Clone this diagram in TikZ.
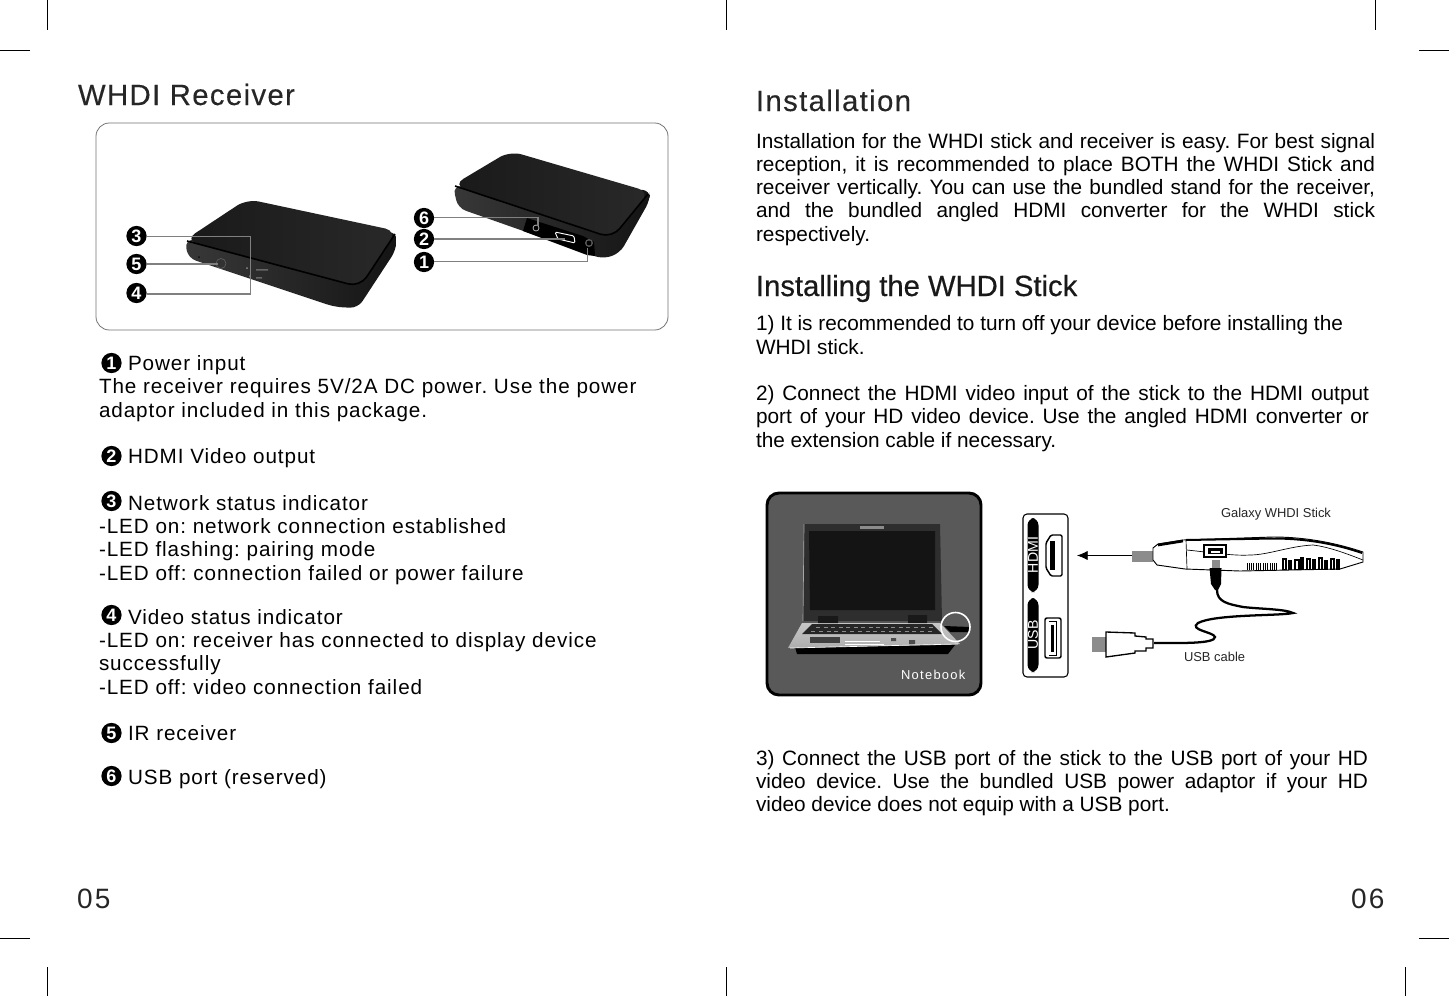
\documentclass[tikz,border=0pt]{standalone}
\usepackage{fontspec}
\usetikzlibrary{arrows.meta}
\setmainfont{Liberation Sans}
\newfontfamily\trackfont[LetterSpace=4.5]{Liberation Sans}
\newfontfamily\headfont[LetterSpace=4.6,FakeBold=0.25]{Liberation Sans}
\newfontfamily\instfont[FakeBold=0.5]{Liberation Sans}
\newfontfamily\pageFont[LetterSpace=8]{Liberation Sans}
\newfontfamily\noteFont[LetterSpace=10]{Liberation Sans}
\newcommand\Jl[2]{\makebox[#1pt][s]{#2}}
\frenchspacing
\tikzset{
 basetxt/.style={anchor=base west,inner sep=0pt,outer sep=0pt,text=black},
 rtext/.style={basetxt,font=\fontsize{15.6}{18}\selectfont},
 ltext/.style={basetxt,font=\fontsize{15.5}{18}\trackfont\selectfont},
 num/.style={circle,fill=black,inner sep=0pt,minimum size=15.2pt,text=white,font=\fontsize{13.5}{13.5}\bfseries\selectfont},
 lead/.style={draw=black!50,line width=0.85pt},
 crop/.style={draw=black,line width=0.7pt},
 h1/.style={basetxt,font=\fontsize{22}{24}\headfont\selectfont,text=black!85},
 captxt/.style={basetxt,font=\fontsize{9.7}{11}\selectfont,text=black!85},
 pagenum/.style={basetxt,font=\fontsize{21}{24}\pageFont\selectfont,text=black!85},
 pill/.style={fill=black,rounded corners=5.5pt},
 port/.style={draw=black,line width=1.1pt,fill=white},
 porttxt/.style={rotate=90,text=white,inner sep=0pt,font=\fontsize{10.6}{12}\selectfont}
}
\begin{document}
\begin{tikzpicture}[x=0.75pt,y=-0.75pt]
\useasboundingbox (0,0) rectangle (1449,996);
\fill[white] (0,0) rectangle (1449,996);
% crop marks
\draw[crop] (47,0)--(47,30) (726,0)--(726,30) (1375,0)--(1375,30);
\draw[crop] (47,967)--(47,996) (726,967)--(726,996) (1405,967)--(1405,996);
\draw[crop] (0,50)--(30,50) (1419,50)--(1449,50) (0,938)--(30,938) (1419,938)--(1449,938);

% titles
\node[h1] (titleL) at (78,105) {WHDI Receiver};
\node[h1] (titleR) at (756,111) {Installation};
\node[basetxt,font=\fontsize{21.9}{24}\instfont\selectfont,text=black!90] (titleS) at (756,296) {Installing the WHDI Stick};
\node[pagenum] (pL) at (77,908) {05};
\node[pagenum] (pR) at (1351,908) {06};

% photo frame
\draw[draw=black!55,line width=0.6pt,rounded corners=10pt] (96,123) rectangle (668,330);

% left receiver
\shade[left color=black!78,right color=black!92,rounded corners=6pt] (185,240)--(188,258)--(335,307)--(358,308)--(396,250)--(397,232)--cycle;
\shade[left color=black!90,right color=black!84,rounded corners=9pt] (185,240)--(247,199)--(397,231)--(360,287)--cycle;
\draw[black,line width=1.2pt,rounded corners=9pt] (187,241)--(360,287)--(395,234);
\fill[black!95] (199,257) circle (1);
\draw[black!60,line width=0.4pt] (221,263.5) circle (5);
\fill[black!45] (247,268) circle (1) (250,276) circle (1);
\fill[black!60] (256,269) rectangle (268,270.5) (256,277) rectangle (262,278.5);

% right receiver
\shade[left color=black!78,right color=black!92,rounded corners=6pt] (453,186)--(458,208)--(603,259)--(620,253)--(650,200)--(650,190)--cycle;
\shade[left color=black!90,right color=black!84,rounded corners=9pt] (453,185)--(510,151)--(650,192)--(612,238)--cycle;
\draw[black,line width=1.2pt,rounded corners=9pt] (455,186)--(612,238)--(648,194);
\fill[black] (527,218)--(583,236)--(594,242)--(595,256)--(587,255)--(523,231)--cycle;
\draw[white!70!black,line width=0.6pt] (536,228) circle (3);
\draw[white,line width=0.7pt,rounded corners=1pt] (555,232)--(574,236)--(575,243)--(558,239)--cycle;
\fill[black!65] (589,243) circle (4);
\fill[black] (589,243) circle (2.4);

% numbers on photo
\node[num] (n3) at (136.5,236) {3};
\node[num] (n5) at (136.5,264) {5};
\node[num] (n4) at (136.5,293) {4};
\node[num] (n6) at (424,218) {6};
\node[num] (n2) at (424,239) {2};
\node[num] (n1) at (424,262) {1};
\coordinate (c3) at (250.5,236.5); \coordinate (c4) at (250.5,294); \coordinate (c5) at (218,264);
\coordinate (c6a) at (538,217.5); \coordinate (c6b) at (538,226); \coordinate (c2) at (565,239);
\coordinate (c1a) at (587.5,261.7); \coordinate (c1b) at (587.5,248);
\draw[lead] (n3.east|-c3)--(c3)--(c4)--(n4.east|-c4);
\draw[lead] (n5)--(c5);
\draw[lead] (n6.east|-c6a)--(c6a)--(c6b);
\draw[lead] (n2)--(c2);
\draw[lead] (n1.east|-c1a)--(c1a)--(c1b);

% left text
\node[num] (b1) at (111.5,363) {1}; \node[ltext] (l1) at (128,370) {Power input};
\node[ltext] (l2) at (99,393) {The receiver requires 5V/2A DC power. Use the power};
\node[ltext] (l3) at (99,417) {adaptor included in this package.};
\node[num] (b2) at (111.5,456) {2}; \node[ltext] (l4) at (128,463) {HDMI Video output};
\node[num] (b3) at (111.5,501) {3}; \node[ltext] (l5) at (128,510) {Network status indicator};
\node[ltext] (l6) at (99,533) {-LED on: network connection established};
\node[ltext] (l7) at (99,556) {-LED flashing: pairing mode};
\node[ltext] (l8) at (99,580) {-LED off: connection failed or power failure};
\node[num] (b4) at (111.5,615) {4}; \node[ltext] (l9) at (128,624) {Video status indicator};
\node[ltext] (l10) at (99,647) {-LED on: receiver has connected to display device};
\node[ltext] (l11) at (99,670) {successfully};
\node[ltext] (l12) at (99,694) {-LED off: video connection failed};
\node[num] (b5) at (111.5,733) {5}; \node[ltext] (l13) at (128,740) {IR receiver};
\node[num] (b6) at (111.5,776) {6}; \node[ltext] (l14) at (128,784) {USB port (reserved)};

% right text
\node[rtext] (r1) at (756,148) {\Jl{464.25}{Installation for the WHDI stick and receiver is easy. For best signal}};
\node[rtext] (r2) at (756,171) {\Jl{464.25}{reception, it is recommended to place BOTH the WHDI Stick and}};
\node[rtext] (r3) at (756,194) {\Jl{464.25}{receiver vertically. You can use the bundled stand for the receiver,}};
\node[rtext] (r4) at (756,217) {\Jl{464.25}{and the bundled angled HDMI converter for the WHDI stick}};
\node[rtext] (r5) at (756,241) {respectively.};
\node[rtext] (r6) at (756,330) {1) It is recommended to turn off your device before installing the};
\node[rtext] (r7) at (756,354) {WHDI stick.};
\node[rtext] (r8) at (756,400) {\Jl{459.75}{2) Connect the HDMI video input of the stick to the HDMI output}};
\node[rtext] (r9) at (756,423) {\Jl{459.75}{port of your HD video device. Use the angled HDMI converter or}};
\node[rtext] (r10) at (756,447) {the extension cable if necessary.};
\node[rtext] (r11) at (756,765) {\Jl{459}{3) Connect the USB port of the stick to the USB port of your HD}};
\node[rtext] (r12) at (756,788) {\Jl{459}{video device. Use the bundled USB power adaptor if your HD}};
\node[rtext] (r13) at (756,811) {video device does not equip with a USB port.};

% notebook panel
\draw[fill=black!65,draw=black,line width=2.2pt,rounded corners=9pt] (767,493) rectangle (981,695);
% laptop base
\fill[black] (795,647)--(955,645)--(948,654)--(797,654)--cycle;
\shade[top color=black!22,bottom color=black!32] (802,623)--(940,623)--(960,644)--(788,648)--cycle;
\draw[white,line width=0.5pt] (790,648)--(958,644);
% screen
\fill[black!82] (804,524)--(940,524)--(942,621)--(803,621)--cycle;
\draw[black!35,line width=0.5pt] (804,524)--(803,621);
\fill[black!92] (809,531)--(935,531)--(935,610)--(810,610)--cycle;
\fill[black!45] (860,526) rectangle (884,529);
\fill[black!90] (818,616) rectangle (838,623) (908,615) rectangle (927,623);
% keyboard
\fill[black!85] (812,624)--(932,624)--(942,634)--(802,634)--cycle;
\foreach \i in {0,...,15}{\draw[black!45,line width=0.4pt] (816+\i*7.5,627)--(820+\i*7.5,627) (811+\i*7.8,631)--(815+\i*7.8,631);}
% palm rest
\fill[black!75] (810,637) rectangle (840,643);
\draw[white,line width=0.5pt] (845,641)--(880,641) (845,644)--(884,644);
\fill[black!70] (891,638) rectangle (896,641) (909,640) rectangle (915,644);
% plug and circle
\fill[black] (944,626)--(970,627)--(969,632)--(950,632)--cycle;
\draw[white,line width=1.2pt] (955.5,627) circle (14.5);
\node[basetxt,font=\fontsize{9.7}{11}\noteFont\selectfont,text=white] (nb) at (901,679) {Notebook};

% port panel
\draw[draw=black,line width=0.8pt,rounded corners=3pt,fill=white] (1023,514) rectangle (1068,677);
\fill[pill] (1027.5,518) rectangle (1038.5,592);
\fill[pill] (1027.5,598) rectangle (1038.5,672);
\node[porttxt] (hdmi) at (1033,555) {HDMI};
\node[porttxt] (usb) at (1033,635) {USB};
\draw[port,rounded corners=1pt] (1051,535)--(1062,535)--(1062,576)--(1051,576)--(1046,568)--(1046,543)--cycle;
\fill[black] (1050,541) rectangle (1055,570);
\draw[port,rounded corners=1.5pt] (1045,618) rectangle (1061,658);
\fill[black] (1051,625) rectangle (1053.5,652);
\draw[black,line width=0.5pt] (1049,621) -- (1056,621) -- (1056,655) -- (1049,655);

% stick
\coordinate (tip) at (1077,555.5);
\fill[black!45] (1132,551) rectangle (1153,562);
\coordinate (plugL) at (1132,555.5);
\draw[-{Latex[length=8pt,width=7pt]},line width=0.6pt] (plugL)--(tip);
\draw[black,line width=0.7pt,fill=white] (1153,548)--(1158,544)--(1183,540)--(1273,537) .. controls (1300,537) and (1330,541) .. (1363,552)--(1363,562)--(1340,569)--(1240,571)--(1185,569)--(1157,565)--(1153,560)--cycle;
\draw[black,line width=1.5pt] (1186,540)--(1273,538.5) .. controls (1300,538.5) and (1330,542) .. (1362,553);
\draw[black,line width=2pt] (1158,545)--(1183,541);
\draw[black,line width=0.5pt] (1187,550) .. controls (1215,553) and (1235,556) .. (1250,555) .. controls (1268,555) and (1290,546) .. (1313,545) .. controls (1330,547) and (1350,555) .. (1363,560);
\draw[black,line width=0.5pt] (1186,540)--(1187,569);
\draw[black,line width=1pt,fill=white] (1204,545) rectangle (1226,557);
\fill[black] (1208,548) rectangle (1223,554);
\fill[white] (1211,551) rectangle (1220,552.5);
\foreach \i in {0,...,13}{\draw[black,line width=0.7pt] (1247+\i*2.3,563)--(1247+\i*2.3,569.5);}
\foreach \i/\w/\t in {0/3/559,1/2/561,2/4/560,3/2/558,4/3/559,5/2/560,6/3/558,7/2/561,8/3/559,9/2/560}{\draw[black,line width=0.8pt] (1283+\i*6,\t) rectangle +(\w,569.5-\t);}

% USB cable
\fill[black!45] (1212,560) rectangle (1220,568);
\fill[black] (1209.5,568)--(1221.5,568)--(1221,584)--(1218,590)--(1215,590)--(1211,584)--cycle;
\draw[black,line width=1.7pt] (1217,590) .. controls (1217,602) and (1228,604) .. (1243,607) .. controls (1260,609) and (1285,609) .. (1293,613) .. controls (1280,616) and (1215,614) .. (1198,623) .. controls (1188,630) and (1214,632) .. (1215,637) .. controls (1215,644) and (1180,643) .. (1154,643);
\fill[black!45] (1092,637) rectangle (1106,652);
\draw[black,line width=1pt,fill=white] (1106,632)--(1135,633)--(1135,636)--(1146,637)--(1146,639)--(1153,639)--(1153,648)--(1146,648)--(1146,651)--(1135,651)--(1135,653)--(1106,657)--cycle;
\node[captxt] (gal) at (1221,517) {Galaxy WHDI Stick};
\node[captxt] (usbc) at (1184,661) {USB cable};
\end{tikzpicture}
\end{document}
